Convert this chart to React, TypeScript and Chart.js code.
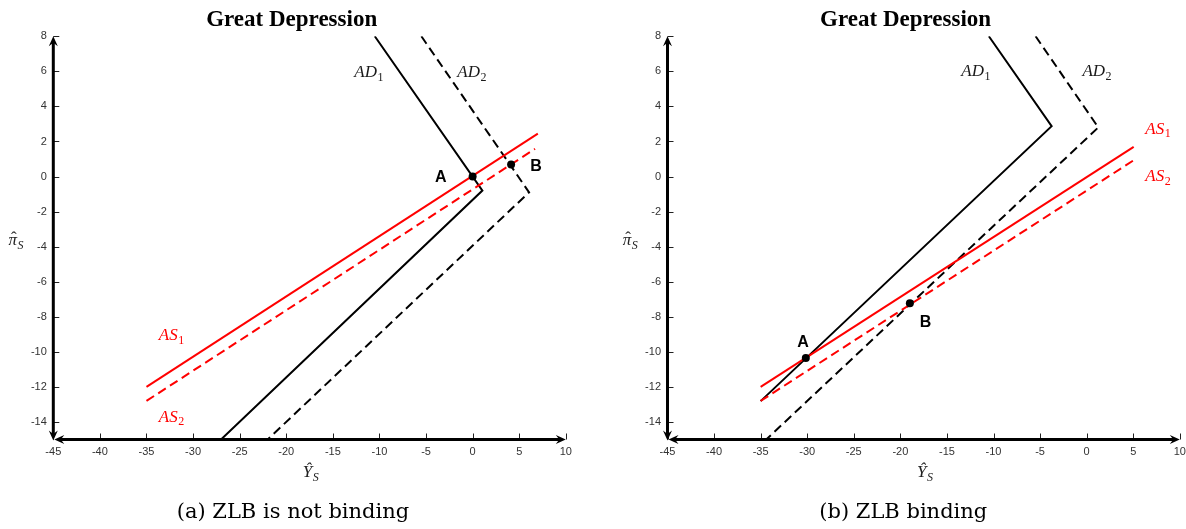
import React, { useEffect, useRef } from "react";
import { Chart, registerables } from "chart.js";

Chart.register(...registerables);

// ---------- shared axes ----------
const X_MIN = -45;
const X_MAX = 10;
const Y_MIN = -15;
const Y_MAX = 8;
const X_TICKS = [-45, -40, -35, -30, -25, -20, -15, -10, -5, 0, 5, 10];
const Y_TICKS = [-14, -12, -10, -8, -6, -4, -2, 0, 2, 4, 6, 8];

// ---------- panel (a): ZLB is not binding ----------
const A_AD1_X = [-10.5, 1.05, -27];
const A_AD1_Y = [8, -0.8, -15];
const A_AD2_X = [-5.5, 6.06, -22];
const A_AD2_Y = [8, -0.9, -15];
const A_AS1_X = [-35, 7.0];
const A_AS1_Y = [-12, 2.45];
const A_AS2_X = [-35, 6.7];
const A_AS2_Y = [-12.8, 1.58];
const A_PTS_X = [0, 4.13];
const A_PTS_Y = [0, 0.69];
const A_PT_NAMES = ["A", "B"];
const A_PT_LABEL_X = [-3.43, 6.8];
const A_PT_LABEL_Y = [0, 0.65];
const A_CURVE_NAMES = ["AD1", "AD2", "AS1", "AS2"];
const A_CURVE_LABEL_X = [-11.16, -0.1, -32.34, -32.34];
const A_CURVE_LABEL_Y = [5.97, 5.97, -9.03, -13.69];

// ---------- panel (b): ZLB binding ----------
const B_AD1_X = [-10.5, -3.76, -35];
const B_AD1_Y = [8, 2.87, -12.81];
const B_AD2_X = [-5.48, 1.25, -34.4];
const B_AD2_Y = [8, 2.8, -15];
const B_AS1_X = [-35, 5.05];
const B_AS1_Y = [-12, 1.69];
const B_AS2_X = [-35, 5.05];
const B_AS2_Y = [-12.8, 0.93];
const B_PTS_X = [-30.15, -18.98];
const B_PTS_Y = [-10.35, -7.23];
const B_PT_NAMES = ["A", "B"];
const B_PT_LABEL_X = [-30.45, -17.3];
const B_PT_LABEL_Y = [-9.42, -8.28];
const B_CURVE_NAMES = ["AD1", "AD2", "AS1", "AS2"];
const B_CURVE_LABEL_X = [-11.92, 1.08, 7.63, 7.63];
const B_CURVE_LABEL_Y = [6.02, 6.02, 2.74, 0.02];

const TITLE = "Great Depression";
const CAPTION_A = "(a) ZLB is not binding";
const CAPTION_B = "(b) ZLB binding";

const RED = "#ff0000";
const BLACK = "#000000";
const SERIF = '"Liberation Serif", "Times New Roman", serif';
const SANS = '"Liberation Sans", Arial, Helvetica, sans-serif';
const CANVAS_H = 500;

const zip = (xs: number[], ys: number[]) => xs.map((x, i) => ({ x, y: ys[i] }));

function drawMath(
  ctx: CanvasRenderingContext2D,
  cx: number,
  cy: number,
  main: string,
  sub: string,
  color: string,
  size: number,
  opts: { subItalic?: boolean; hat?: boolean } = {}
) {
  const mainFont = `italic ${size}px ${SERIF}`;
  const subSize = Math.round(size * 0.7);
  const subFont = `${opts.subItalic ? "italic " : ""}${subSize}px ${SERIF}`;
  ctx.font = mainFont;
  const w1 = ctx.measureText(main).width;
  ctx.font = subFont;
  const w2 = ctx.measureText(sub).width;
  const x0 = cx - (w1 + w2) / 2;
  const base = cy + size * 0.3;
  ctx.fillStyle = color;
  ctx.textAlign = "left";
  ctx.textBaseline = "alphabetic";
  ctx.font = mainFont;
  ctx.fillText(main, x0, base);
  if (opts.hat) {
    ctx.font = `${size}px ${SERIF}`;
    const hw = ctx.measureText("\u02C6").width;
    ctx.fillText("\u02C6", x0 + w1 / 2 - hw / 2 + 1, base - size * 0.12);
  }
  ctx.font = subFont;
  ctx.fillText(sub, x0 + w1 + 0.5, base + size * 0.22);
}

function arrowHead(ctx: CanvasRenderingContext2D, x: number, y: number, dir: "up" | "down" | "left" | "right") {
  const len = 10;
  const hw = 4.5;
  const notch = 6.5;
  let ux = 0,
    uy = 0;
  if (dir === "up") uy = 1;
  if (dir === "down") uy = -1;
  if (dir === "left") ux = 1;
  if (dir === "right") ux = -1;
  const px = -uy,
    py = ux;
  ctx.beginPath();
  ctx.moveTo(x, y);
  ctx.lineTo(x + ux * len + px * hw, y + uy * len + py * hw);
  ctx.lineTo(x + ux * notch, y + uy * notch);
  ctx.lineTo(x + ux * len - px * hw, y + uy * len - py * hw);
  ctx.closePath();
  ctx.fill();
}

type PanelData = {
  ad1: { x: number[]; y: number[] };
  ad2: { x: number[]; y: number[] };
  as1: { x: number[]; y: number[] };
  as2: { x: number[]; y: number[] };
  pts: { x: number[]; y: number[] };
  ptNames: string[];
  ptLx: number[];
  ptLy: number[];
  cNames: string[];
  cLx: number[];
  cLy: number[];
};

const econPlugin = {
  id: "econAxes",
  afterDatasetsDraw(chart: any, _args: any, opts: any) {
    const ctx: CanvasRenderingContext2D = chart.ctx;
    const { left, right, top, bottom } = chart.chartArea;
    const xs = chart.scales.x;
    const ys = chart.scales.y;
    const pd: PanelData = opts.panel;
    ctx.save();

    // inward tick marks
    ctx.strokeStyle = "#222";
    ctx.lineWidth = 1;
    ctx.beginPath();
    X_TICKS.forEach((v) => {
      const px = Math.round(xs.getPixelForValue(v)) + 0.5;
      ctx.moveTo(px, bottom);
      ctx.lineTo(px, bottom - 6);
    });
    Y_TICKS.forEach((v) => {
      const py = Math.round(ys.getPixelForValue(v)) + 0.5;
      ctx.moveTo(left, py);
      ctx.lineTo(left + 6, py);
    });
    ctx.stroke();

    // thick axes with arrow heads
    ctx.strokeStyle = BLACK;
    ctx.fillStyle = BLACK;
    ctx.lineWidth = 3;
    ctx.lineCap = "butt";
    ctx.beginPath();
    ctx.moveTo(left, top + 5);
    ctx.lineTo(left, bottom - 5);
    ctx.moveTo(left + 5, bottom);
    ctx.lineTo(right - 5, bottom);
    ctx.stroke();
    arrowHead(ctx, left, top, "up");
    arrowHead(ctx, left, bottom + 1, "down");
    arrowHead(ctx, left + 1, bottom, "left");
    arrowHead(ctx, right, bottom, "right");

    // axis titles
    drawMath(ctx, left - 37.5, 240, "\u03C0", "S", "#222", 17, { subItalic: true, hat: true });
    drawMath(ctx, (left + right) / 2 + 1, 472, "\u0176", "S", "#222", 17, { subItalic: true });

    // curve labels
    pd.cNames.forEach((n, i) => {
      const color = n.startsWith("AS") ? RED : "#1a1a1a";
      drawMath(ctx, xs.getPixelForValue(pd.cLx[i]), ys.getPixelForValue(pd.cLy[i]), n.slice(0, 2), n.slice(2), color, 17);
    });

    // point labels
    ctx.fillStyle = BLACK;
    ctx.font = `bold 16px ${SANS}`;
    ctx.textAlign = "center";
    ctx.textBaseline = "middle";
    pd.ptNames.forEach((n, i) => {
      ctx.fillText(n, xs.getPixelForValue(pd.ptLx[i]), ys.getPixelForValue(pd.ptLy[i]) + 1);
    });
    ctx.restore();
  },
};

function lineDs(xs: number[], ys: number[], color: string, dashed: boolean) {
  return {
    data: zip(xs, ys),
    showLine: true,
    borderColor: color,
    backgroundColor: color,
    borderWidth: 2,
    borderDash: dashed ? [9, 5] : [],
    pointRadius: 0,
    pointHoverRadius: 0,
    fill: false,
    tension: 0,
    order: 2,
  };
}

function Panel(props: {
  left: number;
  width: number;
  padRight: number;
  yAxisWidth: number;
  caption: string;
  captionCenter: number;
  titleCenter: number;
  data: PanelData;
}) {
  const ref = useRef<HTMLCanvasElement | null>(null);
  useEffect(() => {
    if (!ref.current) return;
    const d = props.data;
    const chart = new Chart(ref.current, {
      type: "scatter",
      data: {
        datasets: [
          {
            data: zip(d.pts.x, d.pts.y),
            showLine: false,
            pointRadius: 4,
            pointBackgroundColor: BLACK,
            pointBorderColor: BLACK,
            pointBorderWidth: 0,
            order: 0,
          } as any,
          lineDs(d.as1.x, d.as1.y, RED, false),
          lineDs(d.as2.x, d.as2.y, RED, true),
          lineDs(d.ad1.x, d.ad1.y, BLACK, false),
          lineDs(d.ad2.x, d.ad2.y, BLACK, true),
        ],
      },
      options: {
        responsive: false,
        animation: false,
        events: [],
        layout: { padding: { left: 0, right: props.padRight, top: 36.3, bottom: 0 } },
        plugins: {
          legend: { display: false },
          tooltip: { enabled: false },
          title: { display: false },
          econAxes: { panel: d },
        } as any,
        scales: {
          x: {
            type: "linear",
            min: X_MIN,
            max: X_MAX,
            grid: { display: false, drawTicks: false },
            border: { display: false },
            afterBuildTicks: (s: any) => {
              s.ticks = X_TICKS.map((v) => ({ value: v }));
            },
            afterFit: (s: any) => {
              s.height = CANVAS_H - 439.5;
              s.paddingLeft = 0;
              s.paddingRight = 0;
            },
            ticks: {
              font: { family: SANS, size: 11 },
              color: "#333",
              padding: 6,
              maxRotation: 0,
              autoSkip: false,
            },
          },
          y: {
            type: "linear",
            min: Y_MIN,
            max: Y_MAX,
            grid: { display: false, drawTicks: false },
            border: { display: false },
            afterBuildTicks: (s: any) => {
              s.ticks = Y_TICKS.map((v) => ({ value: v }));
            },
            afterFit: (s: any) => {
              s.width = props.yAxisWidth;
              s.paddingTop = 0;
              s.paddingBottom = 0;
            },
            ticks: {
              font: { family: SANS, size: 11 },
              color: "#333",
              padding: 6.5,
              autoSkip: false,
            },
          },
        },
      } as any,
      plugins: [econPlugin as any],
    });
    return () => chart.destroy();
  }, []);

  return (
    <div style={{ position: "absolute", left: props.left, top: 0, width: props.width, height: 529 }}>
      <canvas
        ref={ref}
        width={props.width}
        height={CANVAS_H}
        style={{ position: "absolute", left: 0, top: 0, width: props.width, height: CANVAS_H }}
      />
      <div
        style={{
          position: "absolute",
          left: props.titleCenter - 200,
          width: 400,
          top: 7,
          textAlign: "center",
          font: `bold 23px ${SERIF}`,
          lineHeight: "23px",
          color: "#000",
          whiteSpace: "nowrap",
        }}
      >
        {TITLE}
      </div>
      <div
        style={{
          position: "absolute",
          left: props.captionCenter - 200,
          width: 400,
          top: 501,
          textAlign: "center",
          font: `21px "DejaVu Serif", serif`,
          lineHeight: "21px",
          color: "#000",
          whiteSpace: "nowrap",
        }}
      >
        {props.caption}
      </div>
    </div>
  );
}

const PANEL_A: PanelData = {
  ad1: { x: A_AD1_X, y: A_AD1_Y },
  ad2: { x: A_AD2_X, y: A_AD2_Y },
  as1: { x: A_AS1_X, y: A_AS1_Y },
  as2: { x: A_AS2_X, y: A_AS2_Y },
  pts: { x: A_PTS_X, y: A_PTS_Y },
  ptNames: A_PT_NAMES,
  ptLx: A_PT_LABEL_X,
  ptLy: A_PT_LABEL_Y,
  cNames: A_CURVE_NAMES,
  cLx: A_CURVE_LABEL_X,
  cLy: A_CURVE_LABEL_Y,
};

const PANEL_B: PanelData = {
  ad1: { x: B_AD1_X, y: B_AD1_Y },
  ad2: { x: B_AD2_X, y: B_AD2_Y },
  as1: { x: B_AS1_X, y: B_AS1_Y },
  as2: { x: B_AS2_X, y: B_AS2_Y },
  pts: { x: B_PTS_X, y: B_PTS_Y },
  ptNames: B_PT_NAMES,
  ptLx: B_PT_LABEL_X,
  ptLy: B_PT_LABEL_Y,
  cNames: B_CURVE_NAMES,
  cLx: B_CURVE_LABEL_X,
  cLy: B_CURVE_LABEL_Y,
};

export default function App() {
  return (
    <div style={{ position: "absolute", left: 0, top: 0, width: 1186, height: 529, background: "#fff", overflow: "hidden" }}>
      <Panel left={0} width={600} padRight={34.2} yAxisWidth={53.3} caption={CAPTION_A} captionCenter={293} titleCenter={291.7} data={PANEL_A} />
      <Panel left={614} width={572} padRight={6.2} yAxisWidth={53.5} caption={CAPTION_B} captionCenter={289.3} titleCenter={291.6} data={PANEL_B} />
    </div>
  );
}
